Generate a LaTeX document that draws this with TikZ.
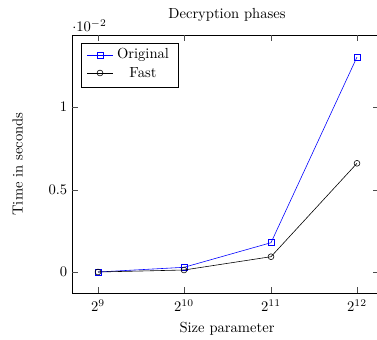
\documentclass[tikz,border=0pt]{standalone}
\usetikzlibrary{plotmarks}
\begin{document}
\begin{tikzpicture}[x=0.685pt,y=-0.685pt,
  axisline/.style={line width=0.4pt,black},
  tickline/.style={line width=0.4pt,black!70},
  ticklabel/.style={inner sep=0pt},
  origplot/.style={blue,line width=0.4pt,mark=square,mark size=2pt,mark options={solid,draw=blue,fill=white}},
  fastplot/.style={black,line width=0.4pt,mark=o,mark size=2pt,mark options={solid,draw=black}}]
\useasboundingbox (0,0) rectangle (377,339);
% axis frame
\coordinate (tl) at (72,35);
\coordinate (bl) at (72,293);
\coordinate (tr) at (379,35);
\coordinate (br) at (379,293);
\draw[axisline] (tr) -- (tl) -- (bl) -- (br) -- (tr);
% x ticks
\foreach \x/\e in {98/9,184/10,271/11,357/12}{
  \draw[tickline] (\x,293) -- (\x,287);
  \draw[tickline] (\x,35) -- (\x,41);
  \node[anchor=base,ticklabel] (xl\e) at (\x,311.5) {$2^{\e}$};
}
% y ticks
\foreach \y/\t/\n in {272/0/a,190/0.5/b,107/1/c}{
  \draw[tickline] (72,\y) -- (78,\y);
  \draw[tickline] (379,\y) -- (373,\y);
  \node[anchor=east,ticklabel] (yl\n) at (67.5,\y) {$\t$};
}
\node[anchor=base west,ticklabel] (scale) at (72,31.5) {$\cdot 10^{-2}$};
% titles
\node[anchor=base] (title) at (227,18.3) {Decryption phases};
\node[anchor=base] (xlabel) at (227,332.5) {Size parameter};
\node[anchor=base,rotate=90] (ylabel) at (22.7,164) {Time in seconds};
% data
\draw[origplot] plot coordinates {(98,272) (184,267.3) (271,242.7) (357,57)};
\draw[fastplot] plot coordinates {(98,272) (184,270) (271,256.7) (357,163.3)};
% legend
\draw[line width=0.4pt,fill=white] (81,43) rectangle (178,87);
\coordinate (lo1) at (87,55);
\coordinate (lo2) at (113,55);
\coordinate (lf1) at (87,73);
\coordinate (lf2) at (113,73);
\draw[blue,line width=0.4pt] (lo1) -- (lo2);
\draw[origplot] plot coordinates {(100,55)};
\node[anchor=center] (lorig) at (143,55) {Original};
\draw[black,line width=0.4pt] (lf1) -- (lf2);
\draw[fastplot] plot coordinates {(100,73)};
\node[anchor=center] (lfast) at (143,73) {Fast};
\end{tikzpicture}
\end{document}
